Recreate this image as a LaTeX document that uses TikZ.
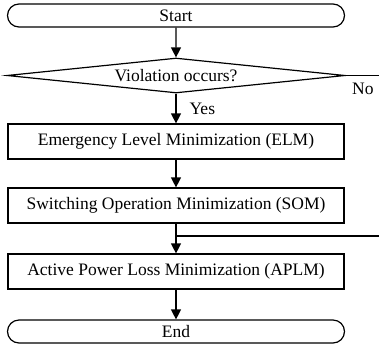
\documentclass[tikz,border=0pt]{standalone}
\usepackage{fontspec}
\setmainfont{Liberation Serif}
\usetikzlibrary{shapes.geometric,shapes.misc,arrows.meta}
\begin{document}
\begin{tikzpicture}[x=1pt,y=-1pt,
  every node/.style={font=\fontsize{17.5pt}{21pt}\selectfont},
  term/.style={draw,rounded rectangle,minimum width=337pt,minimum height=23pt,inner sep=0pt,line width=1.2pt},
  procbox/.style={draw,rectangle,minimum width=336pt,minimum height=35pt,inner sep=0pt,line width=1.2pt},
  decbox/.style={draw,diamond,shape aspect=9.66,minimum width=338pt,minimum height=35pt,inner sep=0pt,line width=1.2pt},
  arr/.style={line width=1.2pt,-{Triangle[length=10pt,width=10pt]}},
  ln/.style={line width=1.2pt}]
\useasboundingbox (0,0) rectangle (379,346);
\node[term] (start) at (176,15.5) {Start};
\node[decbox] (dec) at (176,75.5) {Violation occurs?};
\node[procbox] (elm) at (176,141.5) {Emergency Level Minimization (ELM)};
\node[procbox] (som) at (176,205.5) {Switching Operation Minimization (SOM)};
\node[procbox] (aplm) at (176,271.5) {Active Power Loss Minimization (APLM)};
\node[term] (end) at (176,331.5) {End};
\coordinate (noend) at (380,75.5);
\coordinate (noin) at (380,236);
\coordinate (merge) at (176,236);
\draw[arr] (start) -- (dec);
\draw[arr] (dec) -- node[midway,anchor=west,inner sep=0pt,xshift=13pt] (yes) {Yes} (elm);
\draw[ln] (dec.east) -- (noend);
\node[anchor=north west,inner sep=0pt] (no) at (352,83) {No};
\draw[arr] (elm) -- (som);
\draw[arr] (som) -- (aplm);
\draw[ln] (noin) -- (merge);
\draw[arr] (aplm) -- (end);
\end{tikzpicture}
\end{document}
